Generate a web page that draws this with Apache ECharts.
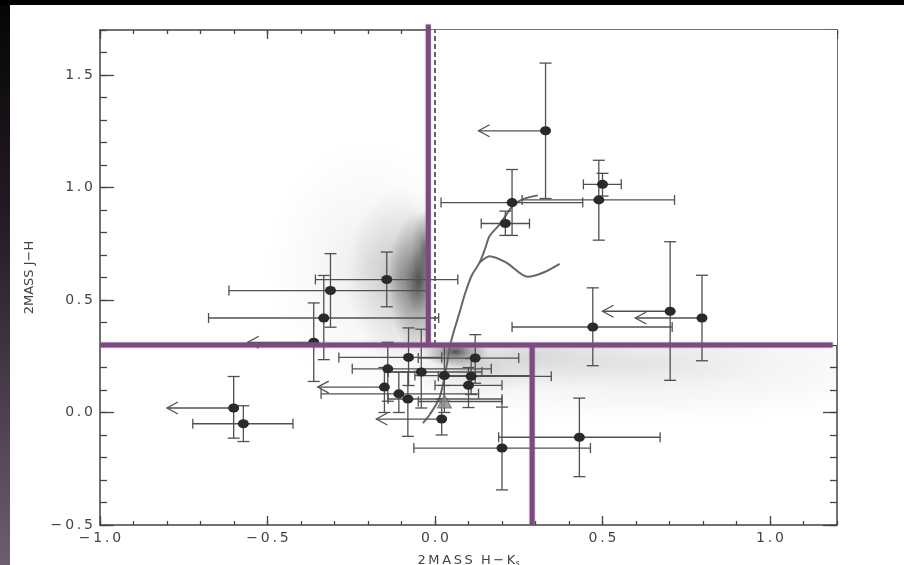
<!DOCTYPE html>
<html>
<head>
<meta charset="utf-8">
<script src="https://cdn.jsdelivr.net/npm/echarts@6/dist/echarts.min.js"></script>
<style>
  html, body { margin: 0; padding: 0; background: #fff; }
  #main { width: 904px; height: 565px; }
</style>
</head>
<body>
<div id="main"></div>
<script>
// 2MASS colours of the sources (filled circles)
const hk = [0.33, 0.23, 0.21, 0.50, 0.489, -0.144, -0.312, -0.332, -0.362, -0.079, -0.141, -0.041, 0.028, 0.12, 0.108, 0.1, -0.151, -0.108, -0.081, 0.02, 0.2, 0.431, -0.601, -0.572, 0.471, 0.702, 0.797]
const jh = [1.252, 0.933, 0.84, 1.014, 0.945, 0.591, 0.542, 0.42, 0.312, 0.245, 0.194, 0.18, 0.164, 0.242, 0.161, 0.121, 0.113, 0.083, 0.06, -0.029, -0.158, -0.11, 0.02, -0.05, 0.38, 0.45, 0.42]
const hkLo = [null, 0.018, 0.138, 0.443, 0.26, -0.357, -0.615, -0.676, null, -0.287, -0.247, -0.14, -0.06, -0.05, 0.01, 0.0, null, -0.34, -0.14, null, -0.063, 0.19, null, -0.723, 0.23, null, null]
const hkHi = [null, 0.441, 0.282, 0.556, 0.715, 0.068, -0.02, 0.011, null, 0.02, 0.168, 0.14, 0.29, 0.25, 0.347, 0.2, null, 0.13, 0.2, null, 0.464, 0.672, null, -0.424, 0.708, null, null]
const jhLo = [0.951, 0.787, 0.787, 0.962, 0.766, 0.47, 0.379, 0.235, 0.138, 0.12, 0.05, 0.02, 0.05, 0.13, 0.08, 0.022, 0.0, 0.0, -0.106, -0.1, -0.344, -0.285, -0.114, -0.129, 0.208, 0.143, 0.23]
const jhHi = [1.553, 1.08, 0.895, 1.063, 1.121, 0.713, 0.706, 0.609, 0.487, 0.376, 0.312, 0.37, 0.30, 0.346, 0.24, 0.2, 0.2, 0.18, 0.18, 0.06, 0.024, 0.064, 0.16, 0.03, 0.554, 0.759, 0.61]
// upper limits in H-K (arrow tip), null = normal error bar
const hkLimit = [0.13, null, null, null, null, null, null, null, -0.559, null, null, null, null, null, null, null, -0.35, null, null, -0.175, null, null, -0.80, null, null, 0.50, 0.598]

// the grey triangle
const triHK = [0.028]
const triJH = [0.049]
const triHKLo = [-0.05]
const triHKHi = [0.2]
const triJHLo = [0.0]
const triJHHi = [0.12]
const triLimit = [null]

// intrinsic colour sequences
const giantHK = [-0.036, -0.016, 0.013, 0.03, 0.048, 0.073, 0.09, 0.11, 0.133, 0.15, 0.163, 0.193, 0.232, 0.262, 0.307]
const giantJH = [-0.047, -0.01, 0.064, 0.17, 0.316, 0.443, 0.53, 0.61, 0.666, 0.73, 0.784, 0.836, 0.918, 0.948, 0.965]
const dwarfHK = [0.133, 0.163, 0.213, 0.277, 0.322, 0.372]
const dwarfJH = [0.666, 0.695, 0.666, 0.603, 0.621, 0.661]

// field star density (centre, spread, relative density)
const fieldHK = [-0.05, -0.03, -0.1, -0.2, 0.06, 0.12, 0.6, 0.3]
const fieldJH = [0.58, 0.72, 0.6, 0.65, 0.27, 0.2, 0.22, 0.25]
const fieldSigHK = [0.09, 0.04, 0.16, 0.3, 0.1, 0.2, 0.9, 0.3]
const fieldSigJH = [0.32, 0.18, 0.4, 0.55, 0.07, 0.14, 0.27, 0.15]
const fieldDensity = [0.6, 0.4, 0.25, 0.08, 0.65, 0.14, 0.11, 0.1]

// selection cuts
const hkCut = -0.02
const jhCut = 0.3
const hkCut2 = 0.29
const hkZero = 0

const hkMin = -1.0, hkMax = 1.2
const jhMin = -0.5, jhMax = 1.7

const font = 'DejaVu Sans'
const axisCol = '#444'
const purple = '#7b4a7f'

function spaced(s) {
  return s.split('').join('\u2009')
}
function tickFmt(v) {
  return spaced((v < 0 ? '\u2212' : '') + Math.abs(v).toFixed(1))
}

function makeErrorBars(s) {
  return function (params, api) {
    const i = params.dataIndex
    const st = { stroke: '#505050', lineWidth: 1.3, fill: null }
    const c = api.coord([s.x[i], s.y[i]])
    const top = api.coord([s.x[i], s.yHi[i]])
    const bot = api.coord([s.x[i], s.yLo[i]])
    const kids = [
      { type: 'line', shape: { x1: c[0], y1: top[1], x2: c[0], y2: bot[1] }, style: st },
      { type: 'line', shape: { x1: c[0] - 6, y1: top[1], x2: c[0] + 6, y2: top[1] }, style: st },
      { type: 'line', shape: { x1: c[0] - 6, y1: bot[1], x2: c[0] + 6, y2: bot[1] }, style: st }
    ]
    if (s.lim[i] != null) {
      const t = api.coord([s.lim[i], s.y[i]])
      kids.push({ type: 'line', shape: { x1: c[0], y1: c[1], x2: t[0], y2: t[1] }, style: st })
      kids.push({ type: 'polyline', shape: { points: [[t[0] + 11, t[1] - 6], [t[0], t[1]], [t[0] + 11, t[1] + 6]] }, style: st })
    } else {
      const l = api.coord([s.xLo[i], s.y[i]])
      const r = api.coord([s.xHi[i], s.y[i]])
      kids.push({ type: 'line', shape: { x1: l[0], y1: l[1], x2: r[0], y2: r[1] }, style: st })
      kids.push({ type: 'line', shape: { x1: l[0], y1: l[1] - 5, x2: l[0], y2: l[1] + 5 }, style: st })
      kids.push({ type: 'line', shape: { x1: r[0], y1: r[1] - 5, x2: r[0], y2: r[1] + 5 }, style: st })
    }
    return { type: 'group', children: kids }
  }
}

function renderField(params, api) {
  const i = params.dataIndex
  const c = api.coord([fieldHK[i], fieldJH[i]])
  const sz = api.size([fieldSigHK[i], fieldSigJH[i]])
  const a = fieldDensity[i]
  return {
    type: 'circle',
    x: c[0],
    y: c[1],
    scaleY: sz[1] / sz[0],
    shape: { cx: 0, cy: 0, r: sz[0] },
    style: {
      fill: {
        type: 'radial', x: 0.5, y: 0.5, r: 0.5,
        colorStops: [
          { offset: 0, color: 'rgba(0,0,0,' + a + ')' },
          { offset: 0.45, color: 'rgba(0,0,0,' + (a * 0.4) + ')' },
          { offset: 1, color: 'rgba(0,0,0,0)' }
        ]
      }
    }
  }
}

function renderMask(params, api) {
  const p0 = api.coord([hkCut, jhCut])
  const p1 = api.coord([hkMax, jhMax])
  return {
    type: 'rect',
    shape: { x: p0[0], y: p1[1], width: p1[0] - p0[0], height: p0[1] - p1[1] },
    style: { fill: '#fff' }
  }
}

function xAxisDef(pos, interval, len, main) {
  return {
    type: 'value', position: pos, min: hkMin, max: hkMax, interval: interval,
    axisLine: { show: main, onZero: false, lineStyle: { color: axisCol, width: 1.5 } },
    axisTick: { inside: true, length: len, lineStyle: { color: axisCol, width: 1.3 } },
    axisLabel: { show: false },
    splitLine: { show: false }
  }
}
function yAxisDef(pos, interval, len, main) {
  return {
    type: 'value', position: pos, min: jhMin, max: jhMax, interval: interval,
    axisLine: { show: main, onZero: false, lineStyle: { color: axisCol, width: 1.5 } },
    axisTick: { inside: true, length: len, lineStyle: { color: axisCol, width: 1.3 } },
    axisLabel: { show: false },
    splitLine: { show: false }
  }
}

const xMain = xAxisDef('bottom', 0.5, 9, true)
xMain.axisLabel = { show: true, formatter: tickFmt, showMaxLabel: false, color: '#444', fontFamily: font, fontSize: 14, margin: 6 }
xMain.name = spaced('2MASS') + '  ' + spaced('H\u2212K') + '{s|s}'
xMain.nameLocation = 'middle'
xMain.nameGap = 28
xMain.nameTextStyle = {
  color: '#444', fontFamily: font, fontSize: 13, verticalAlign: 'top',
  rich: { s: { fontSize: 8, fontFamily: font, color: '#444', padding: [7, 0, 0, 0] } }
}

const yMain = yAxisDef('left', 0.5, 14, true)
yMain.axisLabel = { show: true, formatter: tickFmt, showMaxLabel: false, color: '#444', fontFamily: font, fontSize: 14, margin: 7 }
yMain.name = '2MASS J\u2212H'
yMain.nameLocation = 'middle'
yMain.nameRotate = 90
yMain.nameGap = 64
yMain.nameTextStyle = { color: '#444', fontFamily: font, fontSize: 13 }

const chart = echarts.init(document.getElementById('main'), null, { renderer: 'canvas' })
chart.setOption({
  backgroundColor: '#fff',
  animation: false,
  grid: { left: 100, right: 67, top: 30, bottom: 40, outerBoundsMode: 'none' },
  xAxis: [xMain, xAxisDef('bottom', 0.1, 4, false), xAxisDef('top', 0.5, 9, true), xAxisDef('top', 0.1, 4, false)],
  yAxis: [yMain, yAxisDef('left', 0.1, 7, false), yAxisDef('right', 0.5, 14, true), yAxisDef('right', 0.1, 7, false)],
  graphic: [
    {
      type: 'rect', left: 0, top: 0, z: 100,
      shape: { width: 10, height: 565 },
      style: {
        fill: {
          type: 'linear', x: 0, y: 0, x2: 0, y2: 1,
          colorStops: [{ offset: 0, color: '#050505' }, { offset: 0.4, color: '#251c25' }, { offset: 1, color: '#6e5c73' }]
        }
      }
    },
    { type: 'rect', left: 0, top: 0, z: 100, shape: { width: 904, height: 5 }, style: { fill: '#000' } }
  ],
  series: [
    {
      name: 'field', type: 'custom', z: 1, silent: true, clip: true,
      renderItem: renderField,
      data: fieldHK.map((v, i) => [v, fieldJH[i]])
    },
    {
      name: 'mask', type: 'custom', z: 2, silent: true,
      renderItem: renderMask,
      data: [[hkCut, jhCut]]
    },
    {
      name: 'hk0', type: 'line', z: 3, symbol: 'none', silent: true,
      lineStyle: { color: '#000', width: 1.2, type: [5, 3] },
      data: [[hkZero, jhCut], [hkZero, jhMax]]
    },
    {
      name: 'giants', type: 'line', z: 4, symbol: 'none', smooth: 0.3, silent: true,
      lineStyle: { color: '#666', width: 2 },
      data: giantHK.map((v, i) => [v, giantJH[i]])
    },
    {
      name: 'dwarfs', type: 'line', z: 4, symbol: 'none', smooth: 0.3, silent: true,
      lineStyle: { color: '#666', width: 2 },
      data: dwarfHK.map((v, i) => [v, dwarfJH[i]])
    },
    {
      name: 'errors', type: 'custom', z: 5, silent: true,
      renderItem: makeErrorBars({ x: hk, y: jh, xLo: hkLo, xHi: hkHi, yLo: jhLo, yHi: jhHi, lim: hkLimit }),
      data: hk.map((v, i) => [v, jh[i]])
    },
    {
      name: 'triErrors', type: 'custom', z: 5, silent: true,
      renderItem: makeErrorBars({ x: triHK, y: triJH, xLo: triHKLo, xHi: triHKHi, yLo: triJHLo, yHi: triJHHi, lim: triLimit }),
      data: triHK.map((v, i) => [v, triJH[i]])
    },
    {
      name: 'sources', type: 'scatter', z: 6, symbol: 'circle', symbolSize: [11, 9],
      itemStyle: { color: '#2a2a2a', opacity: 1 },
      data: hk.map((v, i) => [v, jh[i]])
    },
    {
      name: 'triangle', type: 'scatter', z: 6, symbol: 'triangle', symbolSize: [14, 13],
      itemStyle: { color: '#8a8a8a', borderColor: '#666', borderWidth: 1 },
      data: triHK.map((v, i) => [v, triJH[i]])
    },
    {
      name: 'cutH', type: 'line', z: 8, symbol: 'none', silent: true, clip: false,
      lineStyle: { color: purple, width: 5, shadowColor: 'rgba(150,100,150,0.6)', shadowBlur: 2 },
      data: [[hkMin, jhCut], [hkMax - 0.013, jhCut]]
    },
    {
      name: 'cutV1', type: 'line', z: 8, symbol: 'none', silent: true, clip: false,
      lineStyle: { color: purple, width: 5, shadowColor: 'rgba(150,100,150,0.6)', shadowBlur: 2 },
      data: [[hkCut, jhCut], [hkCut, jhMax + 0.025]]
    },
    {
      name: 'cutV2', type: 'line', z: 8, symbol: 'none', silent: true, clip: false,
      lineStyle: { color: purple, width: 5, shadowColor: 'rgba(150,100,150,0.6)', shadowBlur: 2 },
      data: [[hkCut2, jhMin], [hkCut2, jhCut]]
    }
  ]
})
</script>
</body>
</html>
